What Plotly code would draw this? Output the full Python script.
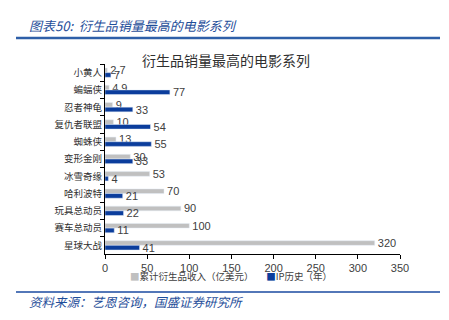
import plotly.graph_objects as go

categories = ["小黄人", "蝙蝠侠", "忍者神龟", "复仇者联盟", "蜘蛛侠", "变形金刚",
              "冰雪奇缘", "哈利波特", "玩具总动员", "赛车总动员", "星球大战"]
revenue = [2.7, 4.9, 9, 10, 13, 30, 53, 70, 90, 100, 320]
ip_years = [7, 77, 33, 54, 55, 33, 4, 21, 22, 11, 41]
rev_labels = ["2.7", "4.9", "9", "10", "13", "30", "53", "70", "90", "100", "320"]
ip_labels = [str(v) for v in ip_years]
x_ticks = [0, 50, 100, 150, 200, 250, 300, 350]
series_names = ["累计衍生品收入（亿美元）", "IP历史（年）"]

GRAY = "#c0c0c0"
BLUE = "#0b3d9c"
CJK = "Noto Sans CJK SC"
LAT = "Liberation Sans, Arial"

# plot area in pixels
L, R, T, B = 105, 400, 64, 254
W, H = 449, 320


def px(xp):
    return (xp - L) / (R - L)


def py(yp):
    return (B - yp) / (B - T)


fig = go.Figure()
fig.add_trace(go.Bar(
    y=categories, x=revenue, orientation="h", name=series_names[0],
    marker_color=GRAY, text=[" " + t for t in rev_labels], textposition="outside",
    constraintext="none",
    textfont=dict(family=LAT, size=11, color="#404040"),
    cliponaxis=False, showlegend=False))
fig.add_trace(go.Bar(
    y=categories, x=ip_years, orientation="h", name=series_names[1],
    marker_color=BLUE, text=[" " + t for t in ip_labels], textposition="outside",
    constraintext="none",
    textfont=dict(family=LAT, size=11, color="#404040"),
    cliponaxis=False, showlegend=False))

fig.update_layout(
    width=W, height=H,
    margin=dict(l=L, r=W - R, t=T, b=H - B, pad=0),
    paper_bgcolor="white", plot_bgcolor="white",
    barmode="group", bargap=0.46, bargroupgap=0.0,
    showlegend=False,
    xaxis=dict(range=[0, 350], tickvals=x_ticks, showgrid=False, zeroline=False,
               showline=True, linecolor="black", linewidth=1,
               ticks="outside", ticklen=4, tickcolor="black",
               tickfont=dict(family=LAT, size=11, color="#404040")),
    yaxis=dict(categoryorder="array", categoryarray=categories, autorange="reversed",
               showgrid=False, zeroline=False, showline=True, linecolor="black", linewidth=1,
               ticks="outside", ticklen=4, tickcolor="black", tickson="boundaries",
               tickfont=dict(family=CJK, size=9.5, color="#303030")),
    font=dict(family=CJK),
)

legend_text = (f"<span style='color:{GRAY}'>■</span>{series_names[0]}"
               f"      <span style='color:{BLUE}'>■</span>{series_names[1]}")

annotations = [
    dict(text="图表50:  衍生品销量最高的电影系列", x=px(27), y=py(25), xanchor="left", yanchor="middle",
         font=dict(family=CJK, size=13, color="#1f4e9a", style="italic")),
    dict(text="衍生品销量最高的电影系列", x=px(226), y=py(60), xanchor="center", yanchor="middle",
         font=dict(family=CJK, size=14, color="#303030")),
    dict(text=legend_text, x=px(128), y=py(275.5), xanchor="left", yanchor="middle",
         font=dict(family=CJK, size=9.5, color="#404040")),
    dict(text="资料来源：艺恩咨询，国盛证券研究所", x=px(27), y=py(301), xanchor="left", yanchor="middle",
         font=dict(family=CJK, size=12.5, color="#1f4e9a", style="italic")),
]
for a in annotations:
    a.update(xref="paper", yref="paper", showarrow=False)
fig.update_layout(annotations=annotations)

fig.add_shape(type="line", xref="paper", yref="paper", x0=px(16), x1=px(440), y0=py(38), y1=py(38),
              line=dict(color="#2e5fa8", width=2.5))
fig.add_shape(type="line", xref="paper", yref="paper", x0=px(16), x1=px(440), y0=py(292), y1=py(292),
              line=dict(color="#1a4aa0", width=1.5))

fig.write_html("out.html")
